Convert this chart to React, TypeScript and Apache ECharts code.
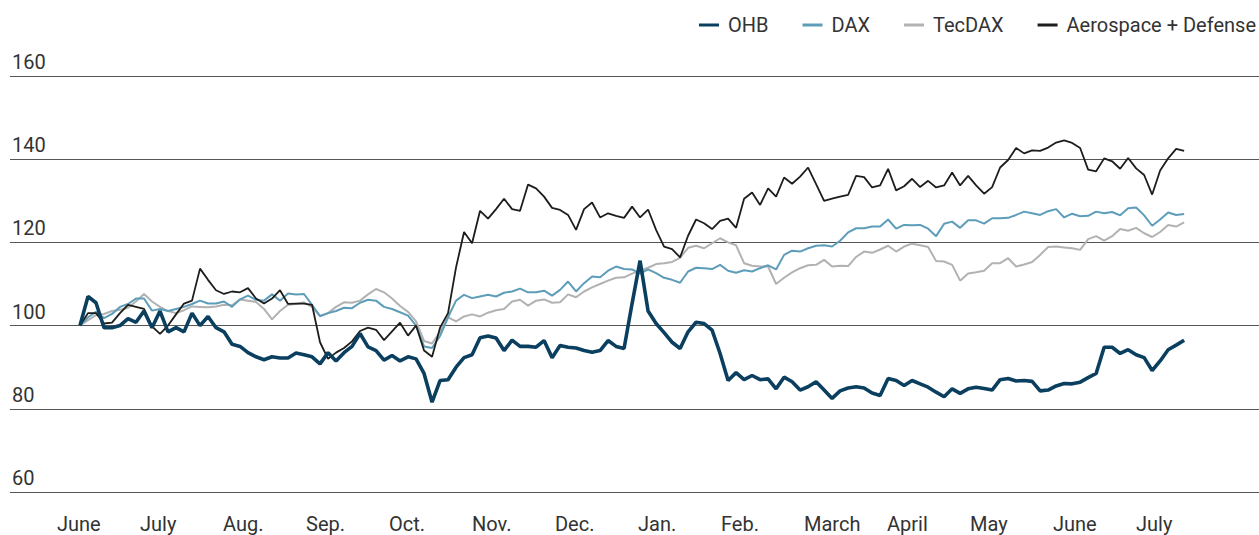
import React, { useEffect, useRef } from "react";
import * as echarts from "echarts";

// Month labels (left edge of each month, starting 1 June)
const MONTHS = ["June", "July", "Aug.", "Sep.", "Oct.", "Nov.", "Dec.", "Jan.", "Feb.", "March", "April", "May", "June", "July"];
const Y_TICKS = [60, 80, 100, 120, 140, 160];

// Sampling: one value every second trading day, first sample ~9 June (in months after 1 June)
const START = 0.277;
const STEP = 0.0964;

const OHB = [100, 107, 105.5, 99.5, 99.5, 100, 101.7, 100.8, 103.5, 99.5,
  103.5, 98.5, 99.5, 98.5, 103, 100, 102.2, 99.5, 98.5, 95.5,
  95, 93.5, 92.5, 91.8, 92.5, 92.2, 92.2, 93.4, 93, 92.5,
  90.8, 93.5, 91.5, 93.5, 95, 98.1, 94.9, 94, 91.7, 92.8,
  91.5, 92.5, 92, 88.5, 81.6, 86.8, 87, 90, 92.3, 93,
  97.1, 97.5, 97, 94, 96.5, 95, 95, 94.8, 96.4, 92.3,
  95.2, 94.8, 94.6, 94, 93.6, 94, 96.4, 95, 94.5, 105.3,
  115.6, 103.5, 100.5, 98.3, 96, 94.5, 98.5, 100.8, 100.5, 98.9,
  93.3, 86.8, 88.7, 87, 88, 87, 87.2, 84.8, 87.6, 86.5,
  84.5, 85.3, 86.5, 84.5, 82.5, 84.3, 85, 85.3, 85, 83.8,
  83.2, 87.3, 86.8, 85.6, 86.8, 86, 85.2, 84, 82.9, 84.8,
  83.7, 84.8, 85.2, 84.9, 84.5, 87, 87.3, 86.7, 86.8, 86.6,
  84.3, 84.5, 85.5, 86.1, 86, 86.4, 87.5, 88.5, 94.8, 94.8,
  93.3, 94.2, 93, 92.3, 89.2, 91.5, 94.2, 95.3, 96.5];

const DAX = [100, 102, 103.3, 101.8, 102.8, 104.5, 105.2, 106.5, 106.5, 103.6,
  104, 103.5, 104, 104.5, 105.2, 106, 105.3, 105.3, 105.8, 104.5,
  106.3, 107.2, 106.2, 106, 107.5, 106, 107.7, 107.5, 107.6, 105,
  102.3, 103, 103.5, 104.3, 104.2, 105.5, 106.2, 106, 104.5, 104,
  103.2, 102.4, 100, 95, 94.6, 97.5, 102, 106, 107.4, 106.6,
  107, 107.4, 107, 107.9, 108.2, 108.9, 108, 108, 108.4, 107.2,
  108.6, 110.6, 108.2, 110.2, 111.8, 111.6, 113.2, 114.2, 113.6, 113.5,
  112.5, 113.5, 112.6, 111.5, 111, 110.3, 113, 113.9, 113.8, 113.6,
  114.6, 113.2, 112.7, 113.3, 113, 113.8, 114.5, 113.5, 117, 118,
  117.8, 118.6, 119.2, 119.3, 119, 120.4, 122.4, 123.4, 123.4, 123.8,
  123.8, 125.5, 123.3, 124.2, 124.1, 124.2, 123.3, 121.5, 124.5, 125,
  123.5, 125.3, 125.3, 124.5, 125.8, 125.8, 125.9, 126.6, 127.4, 127,
  126.6, 127.5, 128, 126, 126.9, 126.3, 126.4, 127.4, 127, 127.3,
  126.5, 128.2, 128.4, 126.5, 124, 125.5, 127.2, 126.6, 126.8];

const TECDAX = [100, 101.3, 102.5, 102.8, 103.5, 103.8, 104.3, 105.8, 107.6, 105.8,
  104.5, 103.5, 103, 103.7, 104.6, 104.5, 104.4, 104.6, 105, 104.9,
  106.3, 106, 105.7, 104, 101.5, 103.5, 105, 105.2, 105.6, 104.5,
  102.2, 103, 104.5, 105.6, 105.5, 106, 107.5, 108.8, 108, 106.5,
  104.7, 103.3, 101, 96.3, 95.7, 98.5, 102, 101, 102.2, 102.7,
  102.2, 103.1, 103.7, 104, 105.8, 106.2, 104.8, 106, 106.3, 105.5,
  105.6, 107.5, 106.8, 108.2, 109.2, 110, 110.8, 111.5, 111.6, 112.5,
  113.2, 113.9, 114.8, 115, 115.3, 116.3, 118.7, 119.2, 118.6, 119.8,
  121, 120, 119.3, 115, 114.4, 114.2, 114.2, 110, 111.5, 112.8,
  113.8, 114.5, 114.6, 115.8, 114.2, 114.4, 114.3, 116.5, 117.8, 117.5,
  118.3, 119.2, 117.8, 119, 119.7, 119.3, 118.9, 115.5, 115.4, 114.6,
  110.8, 112.5, 112.8, 113.2, 115, 115, 116.2, 114.2, 114.7, 115.3,
  117, 118.9, 119, 118.8, 118.6, 118.2, 120.8, 121.5, 120.4, 121.5,
  123.2, 122.8, 123.5, 122.2, 121.3, 122.5, 124.2, 123.8, 124.8];

const AERO = [100, 103, 103, 100.5, 100.7, 103, 105, 104.5, 104, 99.8,
  98, 100, 102.7, 105.3, 106, 113.7, 111, 108.5, 107.6, 108.2,
  108, 109, 106.5, 105.3, 106.5, 108.5, 105.2, 105.3, 105.3, 105,
  96, 92, 93.5, 94.6, 96.2, 98.7, 99.5, 99, 96.5, 98.6,
  100.7, 97.6, 100, 94, 92.5, 99.5, 103, 114, 122.5, 119.8,
  127.6, 125.7, 128, 130.5, 128, 127.6, 133.9, 133, 131, 128.3,
  127.8, 126.6, 123, 128, 129.6, 126, 127, 126.4, 125.9, 128.6,
  126, 127.9, 123, 119, 118.4, 116.4, 121.6, 125.5, 124.6, 123.2,
  125.2, 125.7, 123.5, 130.5, 132, 129, 133, 131, 135.6, 134.1,
  135.8, 138, 134, 130, 130.5, 131, 131.4, 136, 135.7, 133.2,
  133.7, 137.7, 132.5, 133.5, 135.3, 133.3, 134.8, 133.2, 133.7, 136.8,
  133.7, 136, 133.7, 131.7, 133.3, 138, 139.8, 142.7, 141.4, 142.1,
  142, 142.8, 144, 144.5, 143.9, 142.7, 137.5, 137.1, 140.2, 139.5,
  137.7, 140.3, 137.8, 136.2, 131.5, 137.3, 140.2, 142.5, 142];

const SERIES_NAMES = ["OHB", "DAX", "TecDAX", "Aerospace + Defense"];

const toPairs = (vals: number[]) => vals.map((v, i) => [START + i * STEP, v]);

const FONT = "Roboto";
const TEXT_COLOR = "#333333";

export default function App() {
  const ref = useRef<HTMLDivElement>(null);

  useEffect(() => {
    if (!ref.current) return;
    const chart = echarts.init(ref.current, null, { renderer: "svg" });
    const line = (name: string, data: number[], color: string, width: number, z: number) => ({
      name,
      type: "line",
      data: toPairs(data),
      showSymbol: false,
      symbol: "none",
      z,
      itemStyle: { color },
      lineStyle: { color, width },
    });
    chart.setOption({
      animation: false,
      backgroundColor: "#ffffff",
      textStyle: { fontFamily: FONT },
      grid: { left: 10, right: 0, top: 76, bottom: 43, containLabel: false, outerBoundsMode: "none" },
      legend: {
        data: SERIES_NAMES,
        right: -2,
        top: 10,
        icon: "rect",
        itemWidth: 20,
        itemHeight: 3,
        itemGap: 34,
        textStyle: { fontSize: 20, color: TEXT_COLOR, fontFamily: FONT, padding: [0, 0, 0, 4] },
      },
      xAxis: {
        type: "value",
        min: -0.5663,
        max: 14.482,
        axisLine: { show: false },
        axisTick: { show: false },
        splitLine: { show: false },
        axisLabel: {
          customValues: MONTHS.map((_, i) => i),
          formatter: (v: number) => MONTHS[Math.round(v)],
          align: "left",
          margin: 22,
          fontSize: 20,
          color: TEXT_COLOR,
          fontFamily: FONT,
        },
      },
      yAxis: {
        type: "value",
        min: Y_TICKS[0],
        max: Y_TICKS[Y_TICKS.length - 1],
        interval: 20,
        axisLine: { show: false },
        axisTick: { show: false },
        splitLine: { show: true, lineStyle: { color: "#555555", width: 1 } },
        axisLabel: {
          inside: true,
          verticalAlign: "bottom",
          margin: 2,
          padding: [0, 0, 4, 0],
          fontSize: 20,
          color: TEXT_COLOR,
          fontFamily: FONT,
        },
      },
      series: [
        line("TecDAX", TECDAX, "#b2b2b2", 2, 2),
        line("DAX", DAX, "#5e9db9", 2, 3),
        line("Aerospace + Defense", AERO, "#1d1d1b", 1.8, 4),
        line("OHB", OHB, "#0b3f5f", 3.6, 5),
      ],
    });
    return () => chart.dispose();
  }, []);

  return (
    <div
      ref={ref}
      style={{ position: "fixed", left: 0, top: 0, width: 1259, height: 535, background: "#fff" }}
    />
  );
}
